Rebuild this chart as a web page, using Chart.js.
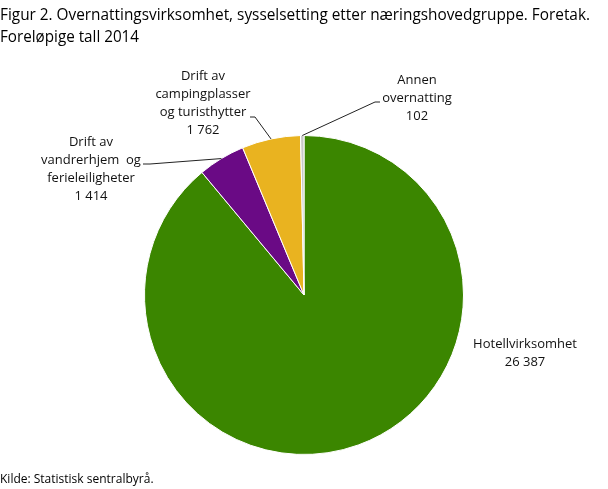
<!DOCTYPE html>
<html>
<head>
<meta charset="utf-8">
<script src="https://cdn.jsdelivr.net/npm/chart.js@4/dist/chart.umd.min.js"></script>
<style>
  html, body { margin: 0; padding: 0; background: #fff; }
  #wrap { width: 608px; height: 489px; position: relative; }
</style>
</head>
<body>
<div id="wrap"><canvas id="overnatting"></canvas></div>
<script>
const titleLines = [
    "Figur 2. Overnattingsvirksomhet, sysselsetting etter næringshovedgruppe. Foretak.",
    "Foreløpige tall 2014"
];
const sourceText = "Kilde: Statistisk sentralbyrå.";

const categories = [
    ["Hotellvirksomhet"],
    ["Drift av", "vandrerhjem  og", "ferieleiligheter"],
    ["Drift av", "campingplasser", "og turisthytter"],
    ["Annen", "overnatting"]
];
const employees = [26387, 1414, 1762, 102];
const valueLabels = ["26 387", "1 414", "1 762", "102"];
const sliceColors = ["#3b8600", "#6a0a85", "#e9b320", "#c8c8c8"];

// label placement, relative to pie centre (dx, dy of first text line) and leader elbow
const labelPlacement = [
    { dx: 221, dy: 49, elbow: null },
    { dx: -213, dy: -153, elbow: [[-154, -131], [-161, -131]] },
    { dx: -101, dy: -219, elbow: [[-49, -178], [-54, -178]] },
    { dx: 113, dy: -215, elbow: [[71, -193], [76, -193]] }
];

const labelPlugin = {
    id: "labelPlugin",
    afterDraw(chart) {
        const ctx = chart.ctx;
        ctx.save();
        // title
        ctx.fillStyle = "#000";
        ctx.font = "16px 'Open Sans'";
        ctx.textAlign = "left";
        ctx.textBaseline = "middle";
        ctx.fillText(titleLines[0], 0, 15, 590);
        ctx.fillText(titleLines[1], 0, 37, 139);
        // source
        ctx.font = "12px 'Open Sans'";
        ctx.fillText(sourceText, 0, 480);

        const meta = chart.getDatasetMeta(0);
        ctx.font = "13px 'Open Sans'";
        ctx.textAlign = "center";
        ctx.fillStyle = "#111";
        meta.data.forEach(function (arc, i) {
            const cx = arc.x, cy = arc.y;
            const p = labelPlacement[i];
            const lines = categories[i].concat([valueLabels[i]]);
            lines.forEach(function (t, k) {
                ctx.fillText(t, cx + p.dx, cy + p.dy + k * 18);
            });
            if (p.elbow) {
                const mid = (arc.startAngle + arc.endAngle) / 2;
                const sx = cx + Math.cos(mid) * arc.outerRadius;
                const sy = cy + Math.sin(mid) * arc.outerRadius;
                ctx.strokeStyle = "#222";
                ctx.lineWidth = 1;
                ctx.beginPath();
                ctx.moveTo(sx, sy);
                p.elbow.forEach(function (e) {
                    ctx.lineTo(cx + e[0], cy + e[1]);
                });
                ctx.stroke();
            }
        });
        ctx.restore();
    }
};

document.addEventListener("DOMContentLoaded", function () {
    const ctx = document.getElementById("overnatting").getContext("2d");

    new Chart(ctx, {
        type: "pie",
        data: {
            labels: categories.map(c => c.join(" ")),
            datasets: [
                {
                    data: employees,
                    backgroundColor: sliceColors,
                    borderColor: "#ffffff",
                    borderWidth: 1
                }
            ]
        },
        options: {
            responsive: true,
            maintainAspectRatio: false,
            animation: false,
            layout: {
                padding: { left: 144, right: 144, top: 135, bottom: 34 }
            },
            plugins: {
                legend: { display: false },
                title: { display: false },
                tooltip: { enabled: false }
            }
        },
        plugins: [labelPlugin]
    });
});
</script>
</body>
</html>
